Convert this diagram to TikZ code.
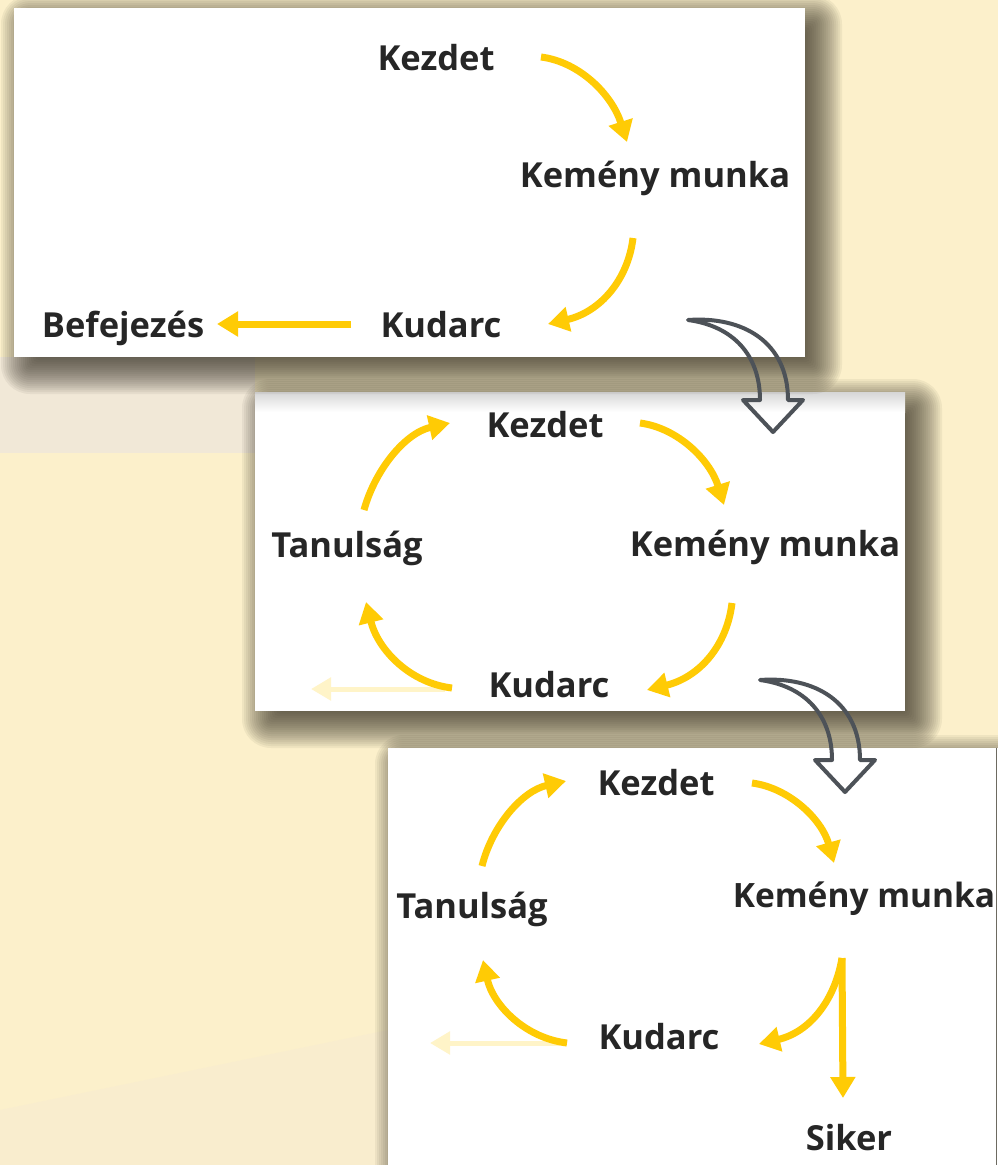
\documentclass[tikz,border=0pt]{standalone}
\usepackage{fontspec}
\setmainfont{Open Sans}
\usetikzlibrary{arrows.meta}
\definecolor{bgc}{HTML}{FCF0CB}
\definecolor{bgpale}{HTML}{F1E8D7}
\definecolor{bglow}{HTML}{F6EAD2}
\definecolor{ylw}{HTML}{FFCB05}
\definecolor{pale}{HTML}{FFF4C8}
\definecolor{txt}{HTML}{262626}
\definecolor{shc}{HTML}{2E2A1E}
\definecolor{garr}{HTML}{4D5258}
\newcommand\panelshadow[4]{%
  \foreach \k in {0,...,24}{%
    \pgfmathsetmacro\rr{25-2*\k}%
    \pgfmathsetmacro\rc{max(\rr,0)+4}%
    \fill[shc, opacity=0.06, rounded corners=\rc pt]
      (#1+12-\rr, #2+12-\rr) rectangle (#3+12+\rr, #4+12+\rr);
  }%
}
\begin{document}
\begin{tikzpicture}[x=1pt,y=-1pt,
  lbl/.style={font=\fontsize{34.5}{40}\selectfont\bfseries, text=txt, anchor=base, inner sep=0pt},
  ya/.style={draw=ylw, line width=7pt, -{Triangle[length=21pt,width=24pt]}},
  fa/.style={draw=pale, line width=5pt, -{Triangle[length=20pt,width=22pt]}},
  panel/.style={fill=white},
  hollow/.style={draw=garr, line width=4pt, line join=round, line cap=round},
]
\useasboundingbox (0,0) rectangle (998,1165);
% background
\fill[bgc] (0,0) rectangle (998,1165);
\fill[bgpale] (0,357) rectangle (255,453);
\fill[bglow, opacity=0.45] (0,1165) -- (0,1110) -- (388,1030) -- (388,1165) -- cycle;

% panel 3 with shadow
\panelshadow{388}{748}{998}{1165}
\fill[panel] (388,748) rectangle (998,1165);
\draw[shc!70, line width=1pt] (996,748) -- (996,1165);
% panel 2 with shadow
\panelshadow{255}{392}{905}{711}
\fill[panel] (255,392) rectangle (905,711);
\shade[top color=black!16, bottom color=white] (255,392) rectangle (905,412);
% panel 1 with shadow
\panelshadow{14}{8}{805}{357}
\fill[panel] (14,8) rectangle (805,357);

% ---------- panel 1 ----------
\node[lbl] (k1) at (436,70) {Kezdet};
\node[lbl] (m1) at (655,187) {Kemény munka};
\node[lbl] (u1) at (441,337) {Kudarc};
\node[lbl] (b1) at (123,337) {Befejezés};
\coordinate (a1s) at (541,57);  \coordinate (a1e) at (627,142);
\coordinate (a2s) at (633,238); \coordinate (a2e) at (548,324);
\coordinate (a3s) at (351,324); \coordinate (a3e) at (217,324);
\draw[ya] (a1s) .. controls (580,62) and (612,95) .. (a1e);
\draw[ya] (a2s) .. controls (628,280) and (600,312) .. (a2e);
\draw[ya] (a3s) -- (a3e);

% ---------- panel 2 ----------
\node[lbl] (k2) at (545,437) {Kezdet};
\node[lbl] (m2) at (765,556) {Kemény munka};
\node[lbl] (t2) at (347,557) {Tanulság};
\node[lbl] (u2) at (549,697) {Kudarc};
\coordinate (f2s) at (445,689); \coordinate (f2e) at (311,689);
\draw[fa] (f2s) -- (f2e);
\coordinate (b1s) at (640,423); \coordinate (b1e) at (724,505);
\coordinate (b2s) at (732,603); \coordinate (b2e) at (647,690);
\coordinate (b3s) at (452,688); \coordinate (b3e) at (366,602);
\coordinate (b4s) at (364,510); \coordinate (b4e) at (450,423);
\draw[ya] (b1s) .. controls (678,428) and (710,460) .. (b1e);
\draw[ya] (b2s) .. controls (727,645) and (700,677) .. (b2e);
\draw[ya] (b3s) .. controls (410,683) and (378,650) .. (b3e);
\draw[ya] (b4s) .. controls (375,470) and (405,433) .. (b4e);

% ---------- panel 3 ----------
\node[lbl] (k3) at (656,795) {Kezdet};
\node[lbl, font=\fontsize{33.5}{40}\selectfont\bfseries] (m3) at (864,907) {Kemény munka};
\node[lbl] (t3) at (472,918) {Tanulság};
\node[lbl] (u3) at (659,1049) {Kudarc};
\node[lbl] (s3) at (849,1150) {Siker};
\coordinate (f3s) at (560,1043); \coordinate (f3e) at (430,1043);
\draw[fa] (f3s) -- (f3e);
\coordinate (c1s) at (752,783);  \coordinate (c1e) at (834,863);
\coordinate (c2s) at (842,958);  \coordinate (c2e) at (759,1044);
\coordinate (c3s) at (567,1043); \coordinate (c3e) at (483,960);
\coordinate (c4s) at (482,866);  \coordinate (c4e) at (566,781);
\coordinate (c5e) at (843,1098);
\draw[ya] (c1s) .. controls (790,788) and (822,820) .. (c1e);
\draw[ya] (c2s) .. controls (835,1000) and (810,1032) .. (c2e);
\draw[ya] (c3s) .. controls (525,1038) and (493,1005) .. (c3e);
\draw[ya] (c4s) .. controls (492,826) and (522,791) .. (c4e);
\draw[ya] (c2s) -- (c5e);

% ---------- hollow connector arrows ----------
\foreach \sx/\sy in {688/320, 760/680}{
  \begin{scope}[shift={(\sx,\sy)}]
    \draw[hollow] (0,0) .. controls (55,-4) and (100,22) .. (100,80)
      -- (115,80) -- (85,112) -- (55,80) -- (72,80)
      .. controls (72,35) and (45,6) .. (0,0) -- cycle;
  \end{scope}
}
\end{tikzpicture}
\end{document}
